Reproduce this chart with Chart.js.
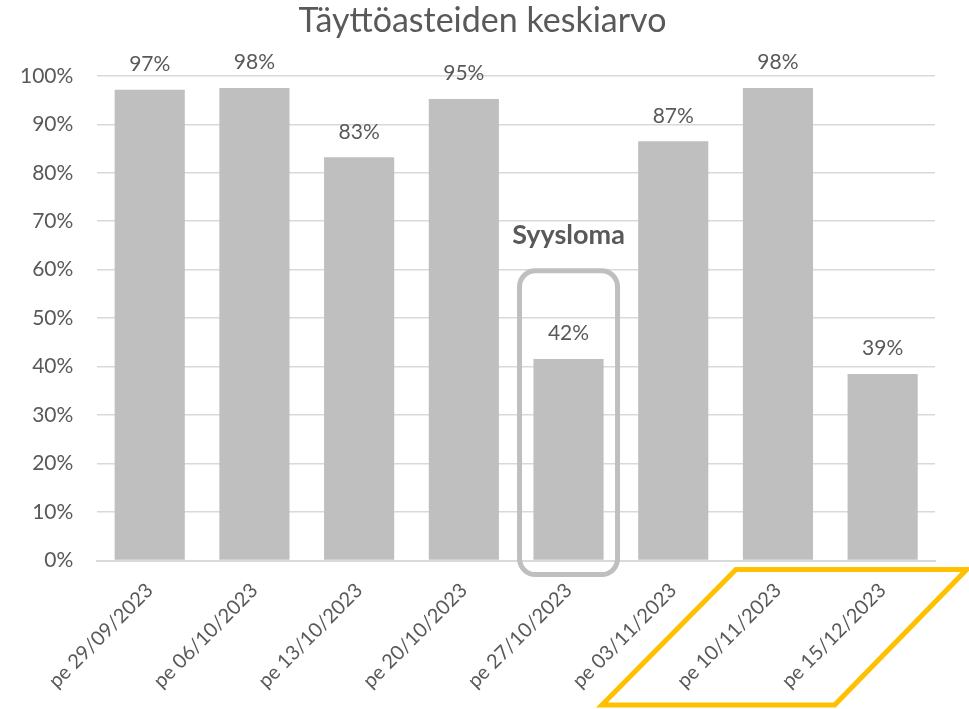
<!DOCTYPE html>
<html>
<head>
<meta charset="utf-8">
<script src="https://cdn.jsdelivr.net/npm/chart.js@4"></script>
<style>
  html, body { margin: 0; padding: 0; background: #fff; }
  #wrap { width: 969px; height: 709px; position: relative; }
</style>
</head>
<body>
<div id="wrap"><canvas id="chart"></canvas></div>
<script>
const categories = ['pe 29/09/2023', 'pe 06/10/2023', 'pe 13/10/2023', 'pe 20/10/2023',
  'pe 27/10/2023', 'pe 03/11/2023', 'pe 10/11/2023', 'pe 15/12/2023'];
const fillRates = [0.971, 0.975, 0.832, 0.952, 0.416, 0.865, 0.975, 0.385];
const yTicks = [0, 0.1, 0.2, 0.3, 0.4, 0.5, 0.6, 0.7, 0.8, 0.9, 1.0];
const titleText = 'Täyttöasteiden keskiarvo';
const holidayLabel = 'Syysloma';
const holidayIndex = 4;

const FONT = 'Lato, "Open Sans", sans-serif';
const textColor = '#595959';

// draws value labels and the hand-drawn looking callouts
const annotations = {
  id: 'annotations',
  afterDatasetsDraw(chart) {
    const ctx = chart.ctx;
    const x = chart.scales.x;
    const y = chart.scales.y;
    const meta = chart.getDatasetMeta(0);

    ctx.save();
    ctx.font = '21px ' + FONT;
    ctx.fillStyle = textColor;
    ctx.textAlign = 'center';
    ctx.textBaseline = 'bottom';
    meta.data.forEach((bar, i) => {
      ctx.fillText(Math.round(fillRates[i] * 100) + '%', bar.x, bar.y - 15);
    });

    // holiday box around the 5th bar
    const cx = x.getPixelForValue(holidayIndex);
    const top = y.getPixelForValue(0.598);
    const bottom = y.getPixelForValue(0) + 14;
    ctx.strokeStyle = '#BFBFBF';
    ctx.lineWidth = 5;
    ctx.beginPath();
    ctx.roundRect(cx - 49, top, 98, bottom - top, 16);
    ctx.stroke();

    ctx.font = 'bold 27px ' + FONT;
    ctx.fillStyle = textColor;
    ctx.textBaseline = 'middle';
    ctx.fillText(holidayLabel, cx, y.getPixelForValue(0.67));

    // yellow parallelogram around the last two dates
    const x7 = x.getPixelForValue(6);
    const x8 = x.getPixelForValue(7);
    const y0 = y.getPixelForValue(0) + 9;
    const yb = chart.height - 4;
    ctx.strokeStyle = '#FFC000';
    ctx.lineWidth = 5;
    ctx.lineJoin = 'miter';
    ctx.beginPath();
    ctx.moveTo(x7 - 42, y0);
    ctx.lineTo(x8 + 84, y0);
    ctx.lineTo(x8 - 48, yb);
    ctx.lineTo(x7 - 176, yb);
    ctx.closePath();
    ctx.stroke();
    ctx.restore();
  }
};

new Chart(document.getElementById('chart'), {
  type: 'bar',
  data: {
    labels: categories,
    datasets: [{
      data: fillRates,
      backgroundColor: '#BFBFBF',
      borderWidth: 0,
      barPercentage: 0.67,
      categoryPercentage: 1.0
    }]
  },
  options: {
    responsive: true,
    maintainAspectRatio: false,
    animation: false,
    layout: { padding: { top: 0, right: 0, bottom: -2, left: -4 } },
    plugins: {
      legend: { display: false },
      tooltip: { enabled: false },
      title: {
        display: true,
        text: titleText,
        color: textColor,
        font: { family: FONT, size: 34, weight: 'normal' },
        padding: { top: 1, bottom: 34 }
      }
    },
    scales: {
      x: {
        grid: { display: false, drawTicks: false },
        border: { color: '#D9D9D9', width: 2 },
        ticks: {
          color: textColor,
          font: { family: FONT, size: 20 },
          minRotation: 45,
          maxRotation: 45,
          padding: 18
        }
      },
      y: {
        min: 0,
        max: 1,
        afterBuildTicks(axis) { axis.ticks = yTicks.map(v => ({ value: v })); },
        grid: { color: '#D9D9D9', lineWidth: 1.5, drawTicks: false },
        border: { display: false },
        ticks: {
          color: textColor,
          font: { family: FONT, size: 21 },
          padding: 24,
          callback: v => Math.round(v * 100) + '%'
        }
      },
      // empty right-hand axis, only reserves the right margin
      yRight: {
        position: 'right',
        display: true,
        grid: { display: false, drawTicks: false },
        border: { display: false },
        ticks: { display: false },
        afterFit(axis) { axis.width = 34; }
      }
    }
  },
  plugins: [annotations]
});
</script>
</body>
</html>
